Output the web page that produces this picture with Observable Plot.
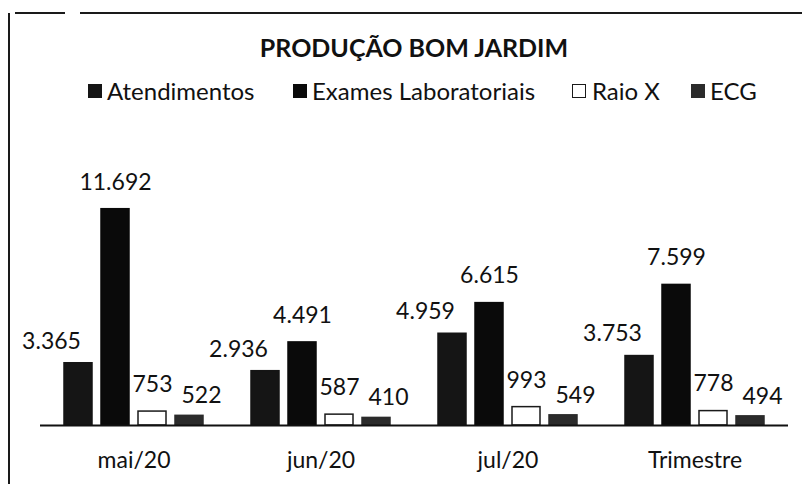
<!DOCTYPE html>
<html>
<head>
<meta charset="utf-8">
<script src="https://cdn.jsdelivr.net/npm/d3@7"></script>
<script src="https://cdn.jsdelivr.net/npm/@observablehq/plot@0.6"></script>
<style>
  html, body { margin: 0; padding: 0; background: #fff; }
  #wrap { position: relative; width: 802px; height: 484px; overflow: hidden; font-family: Lato, "Open Sans", sans-serif; color: #111; }
  #chart { position: absolute; left: 0; top: 0; }
  .line { position: absolute; background: #1a1a1a; }
  #title { position: absolute; left: 0; width: 828px; top: 30px; text-align: center; font-weight: bold; font-size: 25px; line-height: 34px; }
  .lg-sw { position: absolute; width: 14px; height: 14px; top: 84px; box-sizing: border-box; }
  .lg-tx { position: absolute; top: 77px; font-size: 24px; line-height: 28px; white-space: nowrap; }
</style>
</head>
<body>
<div id="wrap">
  <div class="line" style="left:8px;top:13px;width:2px;height:471px"></div>
  <div class="line" style="left:15px;top:12px;width:50px;height:2px"></div>
  <div class="line" style="left:80px;top:12px;width:722px;height:2px"></div>
  <div id="title">PRODUÇÃO BOM JARDIM</div>
  <div id="legend"></div>
  <div id="chart"></div>
</div>
<script>
const months = ["mai/20", "jun/20", "jul/20", "Trimestre"];
const series = ["Atendimentos", "Exames Laboratoriais", "Raio X", "ECG"];
const atendimentos = [3365, 2936, 4959, 3753];
const exames = [11692, 4491, 6615, 7599];
const raioX = [753, 587, 993, 778];
const ecg = [522, 410, 549, 494];

const values = [atendimentos, exames, raioX, ecg];
const data = [];
months.forEach((m, i) => series.forEach((s, j) => data.push({month: m, series: s, value: values[j][i]})));

const fills = ["#151515", "#0a0a0a", "#ffffff", "#2b2b2b"];
const strokes = ["#151515", "#0a0a0a", "#1a1a1a", "#2b2b2b"];

const fmt = d3.formatLocale({decimal: ",", thousands: ".", grouping: [3], currency: ["", ""]}).format(",d");

// legend
const legendPos = [[88, 107], [293, 312], [572, 592], [691, 710]];
const lg = document.getElementById("legend");
series.forEach((s, j) => {
  const sw = document.createElement("div");
  sw.className = "lg-sw";
  sw.style.left = legendPos[j][0] + "px";
  sw.style.background = fills[j];
  sw.style.border = "1.5px solid " + strokes[j];
  lg.appendChild(sw);
  const tx = document.createElement("div");
  tx.className = "lg-tx";
  tx.style.left = legendPos[j][1] + "px";
  tx.textContent = s;
  lg.appendChild(tx);
});

const labelOffsets = {
  "Atendimentos": {dx: -27, dy: -22},
  "Exames Laboratoriais": {dx: 0, dy: -27},
  "Raio X": {dx: 0, dy: -27},
  "ECG": {dx: 12, dy: -20}
};

const chart = Plot.plot({
  width: 802,
  height: 484,
  marginTop: 203,
  marginBottom: 59,
  marginLeft: 40,
  marginRight: 14,
  style: {fontFamily: "Lato, 'Open Sans', sans-serif", background: "transparent", color: "#111"},
  fx: {domain: months, padding: 0, label: null, axis: null},
  x: {domain: series, axis: null, paddingInner: 0.23, paddingOuter: 0.6},
  y: {domain: [0, 12000], axis: null},
  color: {domain: series, range: fills},
  marks: [
    Plot.barY(data, {
      fx: "month", x: "series", y: "value",
      fill: "series",
      stroke: d => strokes[series.indexOf(d.series)],
      strokeWidth: 1.5
    }),
    Plot.ruleY([0], {stroke: "#111", strokeWidth: 2}),
    ...series.map(s => Plot.text(data.filter(d => d.series === s), {
      fx: "month", x: "series", y: "value",
      text: d => fmt(d.value),
      dx: labelOffsets[s].dx, dy: labelOffsets[s].dy,
      fontSize: 23, fill: "#111"
    })),
    Plot.axisFx({anchor: "bottom", tickSize: 0, tickPadding: 26, fontSize: 23, label: null, fill: "#111"})
  ]
});
document.getElementById("chart").appendChild(chart);
</script>
</body>
</html>
